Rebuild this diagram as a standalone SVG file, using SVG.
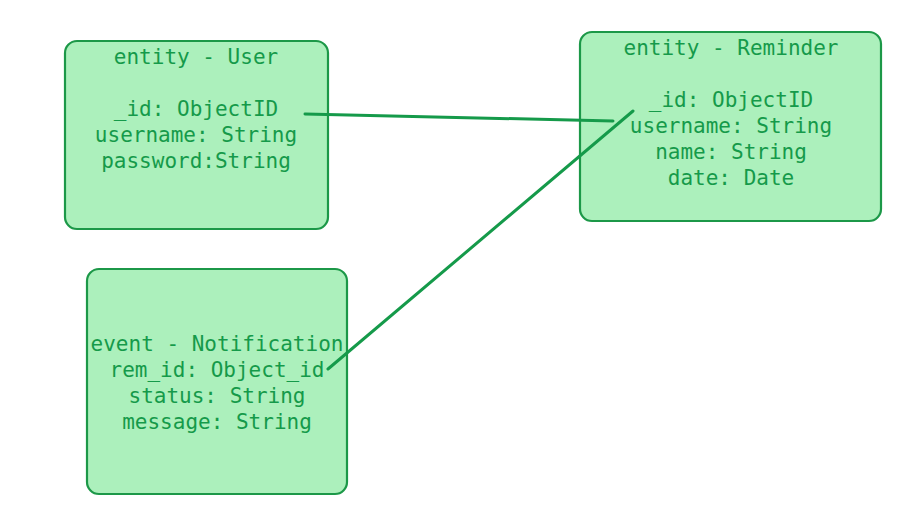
<svg xmlns="http://www.w3.org/2000/svg" width="924" height="528" viewBox="0 0 924 528">
<style>
.box{fill:#acf0bc;stroke:#1c9848;stroke-width:2.2}
.t{font-family:"DejaVu Sans Mono","Liberation Mono",monospace;font-size:21px;fill:#159a4a;text-anchor:middle;dominant-baseline:central}
.c{stroke:#159a4a;stroke-width:3;fill:none;stroke-linecap:round}
</style>
<rect width="924" height="528" fill="#ffffff"/>
<g id="user">
<rect class="box" x="65" y="41" width="263" height="188" rx="12"/>
<text class="t" x="196" y="57">entity - User</text>
<text class="t" x="196" y="109">_id: ObjectID</text>
<text class="t" x="196" y="135">username: String</text>
<text class="t" x="196" y="161">password:String</text>
</g>
<g id="reminder">
<rect class="box" x="580" y="32" width="301" height="189" rx="12"/>
<text class="t" x="731" y="48">entity - Reminder</text>
<text class="t" x="731" y="100">_id: ObjectID</text>
<text class="t" x="731" y="126">username: String</text>
<text class="t" x="731" y="152">name: String</text>
<text class="t" x="731" y="178">date: Date</text>
</g>
<g id="notification">
<rect class="box" x="87" y="269" width="260" height="225" rx="12"/>
<text class="t" x="217" y="344">event - Notification</text>
<text class="t" x="217" y="370">rem_id: Object_id</text>
<text class="t" x="217" y="396">status: String</text>
<text class="t" x="217" y="422">message: String</text>
</g>
<g id="connectors">
<line class="c" x1="305" y1="114" x2="613" y2="121"/>
<line class="c" x1="328" y1="369" x2="633" y2="111"/>
</g>
</svg>
